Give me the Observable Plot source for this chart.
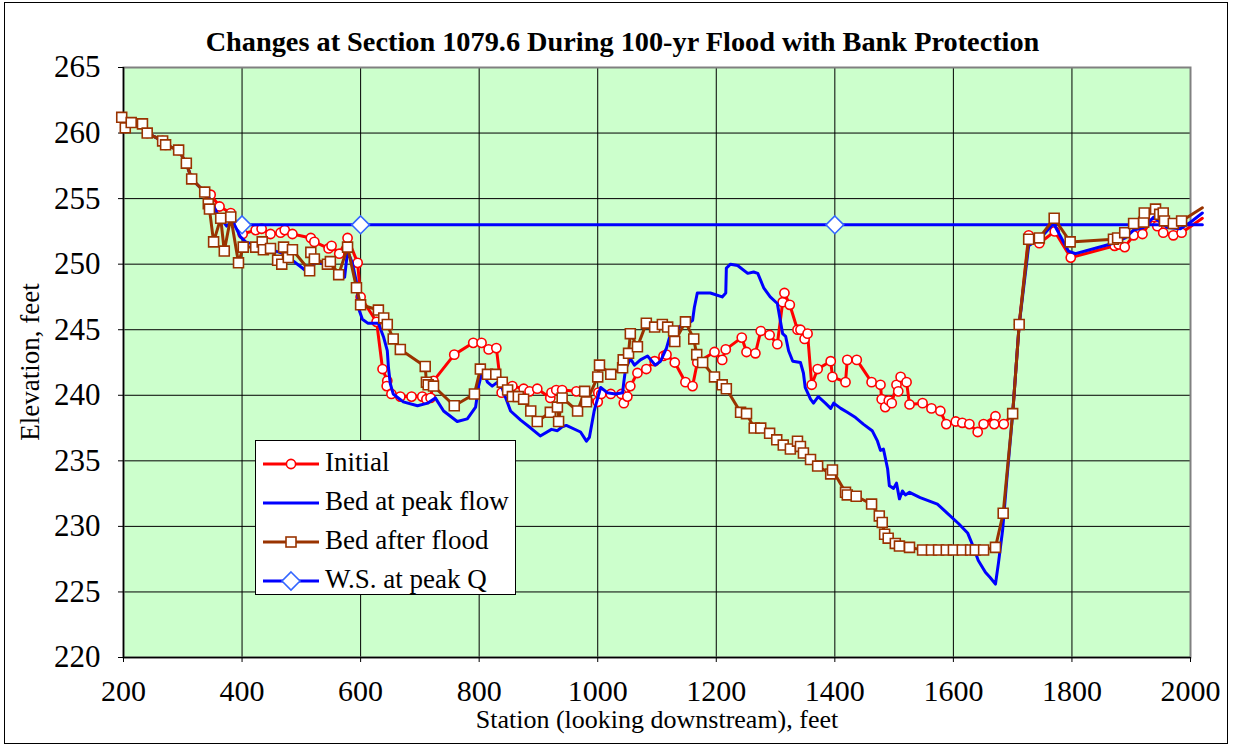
<!DOCTYPE html>
<html><head><meta charset="utf-8">
<script src="https://cdn.jsdelivr.net/npm/d3@7"></script>
<script src="https://cdn.jsdelivr.net/npm/@observablehq/plot@0.6"></script>
<style>
body{margin:0;background:#fff;}
#wrap{position:relative;width:1233px;height:746px;font-family:'Liberation Serif','Times New Roman',serif;color:#000;overflow:hidden;}
#border{position:absolute;left:4px;top:2px;width:1224px;height:742px;border:1px solid #000;box-sizing:border-box;pointer-events:none;}
#title{position:absolute;top:26px;left:0;width:1245px;text-align:center;font-weight:bold;font-size:28.3px;line-height:normal;white-space:nowrap;}
#xtitle{position:absolute;top:707px;left:0;width:1314px;text-align:center;font-size:26px;line-height:26px;white-space:nowrap;}
#ytitle{position:absolute;left:30px;top:362px;transform:translate(-50%,-50%) rotate(-90deg);font-size:27px;line-height:normal;white-space:nowrap;}
#legend{position:absolute;left:255px;top:440px;width:261px;height:155px;background:#fff;border:1px solid #000;box-sizing:border-box;}
.lrow{position:absolute;left:0;height:30px;width:100%;}
.lrow svg{position:absolute;left:7px;top:0;}
.lrow span{position:absolute;left:69px;top:-2px;font-size:27px;line-height:normal;white-space:nowrap;}
#chart{position:absolute;left:0;top:0;}
</style></head>
<body>
<div id="wrap">
  <div id="chart"></div>
  <div id="title">Changes at Section 1079.6 During 100-yr Flood with Bank Protection</div>
  <div id="xtitle">Station (looking downstream), feet</div>
  <div id="ytitle">Elevation, feet</div>
  <div id="legend"></div>
  <div id="border"></div>
</div>
<script>
const xTicks = [200,400,600,800,1000,1200,1400,1600,1800,2000];
const yTicks = [220,225,230,235,240,245,250,255,260,265];

const seriesNames = ["Initial","Bed at peak flow","Bed after flood","W.S. at peak Q"];

// shared upper-left bank points (all three bed series coincide there)
const bankStation = [197,203,213,232,240,266,271,293,306,315,337];
const bankElev    = [261.2,260.4,260.8,260.7,260.0,259.4,259.1,258.7,257.7,256.5,255.5];

const initialStation = bankStation.concat([347,362,381,401,423,433,448,465,472,485,516,522,546,551,564,578,595,600,627,637,645,644,652,667,686,704,711,718,723,758,790,804,816,829,838,856,875,885,898,920,922,930,940,964,983,1000,1001,1006,1022,1040,1044,1050,1055,1067,1082,1096,1111,1116,1130,1148,1160,1168,1197,1210,1216,1243,1251,1266,1275,1290,1303,1312,1315,1324,1337,1342,1349,1354,1361,1371,1393,1396,1418,1421,1437,1462,1477,1479,1485,1491,1496,1504,1507,1511,1521,1526,1548,1563,1578,1588,1604,1615,1627,1641,1651,1671,1669,1685,1700,1711,1727,1745,1771,1798,1872,1879,1889,1904,1919,1938,1944,1954,1971,1985,2020]);
const initialElev = bankElev.concat([255.3,254.4,253.9,252.3,252.6,252.7,252.3,252.4,252.6,252.3,252.0,251.7,251.2,251.4,250.8,252.0,250.1,247.5,245.6,242.0,241.1,240.7,240.1,239.9,239.9,239.9,239.7,239.8,241.1,243.1,244.0,244.0,243.5,243.6,240.2,240.7,240.5,240.3,240.5,239.8,240.2,240.4,240.4,240.3,239.6,239.5,240.2,240.1,240.1,240.1,239.4,239.9,240.7,241.7,242.0,242.6,243.0,243.1,242.5,241.0,240.7,242.5,243.3,242.7,243.5,244.4,243.3,243.2,244.9,244.6,243.9,247.1,247.8,246.9,245.0,245.0,244.3,244.7,240.8,242.0,242.6,241.4,241.0,242.7,242.7,241.0,240.8,239.7,239.1,239.6,239.4,240.8,240.3,241.4,241.0,239.3,239.4,239.0,238.8,237.8,238.0,237.9,237.8,237.2,237.8,238.4,237.8,237.8,238.6,245.4,252.2,251.6,252.5,250.5,251.4,251.5,251.3,252.2,252.3,253.6,252.9,252.4,252.2,252.4,253.5]);

const peakStation = bankStation.concat([347,360,374,384,397,406,435,470,499,510,526,537,553,563,573,578,586,595,596,603,612,630,639,645,647,650,655,672,696,713,726,740,763,780,794,799,806,814,822,831,839,853,870,887,903,922,932,940,947,971,981,986,994,1005,1016,1030,1042,1044,1047,1055,1062,1072,1084,1097,1106,1116,1121,1128,1140,1153,1160,1163,1168,1190,1210,1216,1217,1224,1236,1253,1263,1270,1280,1291,1303,1308,1312,1317,1322,1329,1342,1347,1350,1359,1364,1372,1384,1393,1398,1410,1421,1435,1448,1463,1472,1477,1482,1489,1492,1499,1504,1509,1514,1519,1526,1544,1573,1590,1609,1624,1634,1642,1654,1662,1671,1676,1683,1690,1700,1711,1727,1747,1769,1794,1806,1870,1890,1904,1921,1938,1949,1961,1983,2000,2020]);
const peakElev = bankElev.concat([254.9,253.7,252.9,253.3,252.1,251.7,251.3,250.8,249.8,249.4,250.2,250.0,249.9,248.9,249.0,251.0,250.1,248.2,246.7,245.8,245.5,245.5,244.4,243.4,242.1,240.9,240.1,239.5,239.2,239.4,239.8,238.8,238.0,238.2,239.1,240.7,242.0,241.0,240.7,241.0,240.5,238.8,238.1,237.5,236.9,237.4,237.3,237.6,237.7,237.2,236.5,236.8,238.8,240.6,240.2,240.1,240.2,241.0,242.0,242.8,242.3,242.7,243.0,242.3,242.6,243.6,244.4,244.8,245.3,245.5,245.7,246.7,247.8,247.8,247.5,247.8,249.7,250.0,249.9,249.3,249.4,249.3,248.2,247.5,247.0,245.7,244.7,244.5,243.4,242.6,242.5,241.7,240.6,239.7,239.4,239.9,239.4,239.0,239.4,239.0,238.7,238.3,237.8,237.3,236.5,235.8,235.9,234.4,233.1,232.9,233.3,232.1,232.7,232.4,232.6,232.2,231.7,231.0,230.2,229.5,228.4,227.4,226.5,226.1,225.6,227.2,229.7,233.5,238.6,245.4,251.4,252.0,253.1,251.0,250.8,251.6,252.0,252.6,252.8,253.6,253.2,252.8,252.7,253.2,253.9]);

const afterStation = bankStation.concat([343,345,352,364,370,381,394,402,423,434,436,448,460,467,470,478,485,514,516,522,544,549,563,578,593,600,630,639,645,655,667,709,711,714,723,758,792,802,814,828,839,848,856,866,875,887,898,920,932,934,940,966,978,981,1000,1003,1022,1042,1043,1052,1055,1067,1082,1096,1109,1118,1128,1130,1148,1162,1167,1177,1197,1210,1217,1241,1251,1264,1275,1290,1302,1313,1325,1337,1342,1347,1359,1371,1393,1396,1418,1421,1436,1462,1475,1480,1484,1490,1502,1509,1526,1548,1563,1575,1588,1600,1615,1629,1637,1651,1671,1684,1700,1711,1727,1745,1770,1797,1870,1877,1889,1904,1921,1922,1941,1948,1954,1956,1971,1985,2020]);
const afterElev = bankElev.concat([254.6,254.2,251.7,253.5,251.0,253.6,250.1,251.3,251.3,251.7,251.1,251.2,250.3,250.0,251.3,250.5,251.1,249.5,250.9,250.4,250.0,250.2,249.2,251.3,248.2,246.9,246.5,245.9,245.4,244.3,243.5,242.2,241.0,240.8,240.7,239.2,240.1,242.0,241.6,241.6,241.0,240.4,239.9,239.9,239.7,238.8,238.0,238.7,239.1,238.0,239.8,238.8,240.3,239.5,241.4,242.3,241.6,242.1,242.7,243.2,244.7,243.7,245.5,245.2,245.4,245.2,244.9,244.1,245.6,244.3,243.1,242.5,241.4,240.8,240.5,238.7,238.6,237.5,237.5,237.1,236.6,236.2,235.9,236.5,236.1,235.6,235.1,234.6,234.0,234.3,232.6,232.4,232.3,231.7,230.8,230.3,229.4,229.1,228.7,228.5,228.4,228.2,228.2,228.2,228.2,228.2,228.2,228.2,228.2,228.2,228.4,231.0,238.6,245.4,251.9,252.0,253.5,251.7,251.9,252.0,252.4,253.1,253.2,253.9,254.2,253.8,253.9,253.3,253.1,253.3,254.3]);

const wsStation = [400,600,1400,2020];
const wsElev    = [253,253,253,253];

const rows = (s, e) => s.map((v, i) => ({station: v, elev: e[i]}));
const initial = rows(initialStation, initialElev);
const peak = rows(peakStation, peakElev);
const after = rows(afterStation, afterElev);
const ws = rows(wsStation, wsElev);
const inDomain = d => d.station <= 2000;

const RED = "#FF0000", BLUE = "#0000FF", BROWN = "#993300", DIA = "#3366FF";
const FONT = "'Liberation Serif', 'Times New Roman', serif";

const chart = Plot.plot({
  width: 1233, height: 746,
  marginLeft: 123, marginRight: 43, marginTop: 67, marginBottom: 89,
  style: {fontFamily: FONT, fontSize: "30px", background: "transparent", overflow: "visible", color: "#000"},
  x: {domain: [200, 2000]},
  y: {domain: [220, 265]},
  marks: [
    Plot.frame({fill: "#CCFFCC"}),
    Plot.gridX(xTicks, {stroke: "#000", strokeOpacity: 1, strokeWidth: 1}),
    Plot.gridY(yTicks, {stroke: "#000", strokeOpacity: 1, strokeWidth: 1}),
    Plot.frame({stroke: "#808080", strokeWidth: 2}),
    Plot.ruleX([200], {stroke: "#000", strokeWidth: 1.5}),
    Plot.ruleY([220], {stroke: "#000", strokeWidth: 1.5}),
    Plot.axisX(xTicks, {tickSize: 5, tickPadding: 17, label: null, fontSize: 30, fontFamily: FONT, stroke: "#000", tickFormat: d => String(d)}),
    Plot.axisY(yTicks, {tickSize: 5, tickPadding: 18, label: null, fontSize: 31, fontFamily: FONT, stroke: "#000", tickFormat: d => String(d)}),
    // Initial
    Plot.line(initial, {x: "station", y: "elev", stroke: RED, strokeWidth: 3}),
    Plot.dot(initial.filter(inDomain), {x: "station", y: "elev", r: 4.6, fill: "#fff", stroke: RED, strokeWidth: 1.6}),
    // W.S. at peak Q
    Plot.line(ws, {x: "station", y: "elev", stroke: BLUE, strokeWidth: 3}),
    Plot.dot(ws.filter(inDomain), {x: "station", y: "elev", symbol: "diamond2", r: 8, fill: "#fff", stroke: DIA, strokeWidth: 1.6}),
    // Bed at peak flow
    Plot.line(peak, {x: "station", y: "elev", stroke: BLUE, strokeWidth: 3}),
    // Bed after flood
    Plot.line(after, {x: "station", y: "elev", stroke: BROWN, strokeWidth: 3}),
    Plot.dot(after.filter(inDomain), {x: "station", y: "elev", symbol: "square", r: 5.6, fill: "#fff", stroke: BROWN, strokeWidth: 1.6})
  ]
});
document.getElementById("chart").appendChild(chart);

// legend
const legendDefs = [
  {name: seriesNames[0], color: RED, sym: "circle"},
  {name: seriesNames[1], color: BLUE, sym: null},
  {name: seriesNames[2], color: BROWN, sym: "square"},
  {name: seriesNames[3], color: BLUE, sym: "diamond"}
];
const leg = document.getElementById("legend");
legendDefs.forEach((d, i) => {
  const row = document.createElement("div");
  row.className = "lrow";
  row.style.top = (8 + i * 39) + "px";
  let sym = "";
  if (d.sym === "circle") sym = `<circle cx="28" cy="15" r="4.6" fill="#fff" stroke="${d.color}" stroke-width="1.6"/>`;
  if (d.sym === "square") sym = `<rect x="23" y="10" width="10" height="10" fill="#fff" stroke="${d.color}" stroke-width="1.6"/>`;
  if (d.sym === "diamond") sym = `<path d="M28,6 L37,15 L28,24 L19,15 Z" fill="#fff" stroke="${DIA}" stroke-width="1.6"/>`;
  row.innerHTML = `<svg width="58" height="30"><line x1="0" y1="15" x2="56" y2="15" stroke="${d.color}" stroke-width="3"/>${sym}</svg><span>${d.name}</span>`;
  leg.appendChild(row);
});
</script>
</body></html>
